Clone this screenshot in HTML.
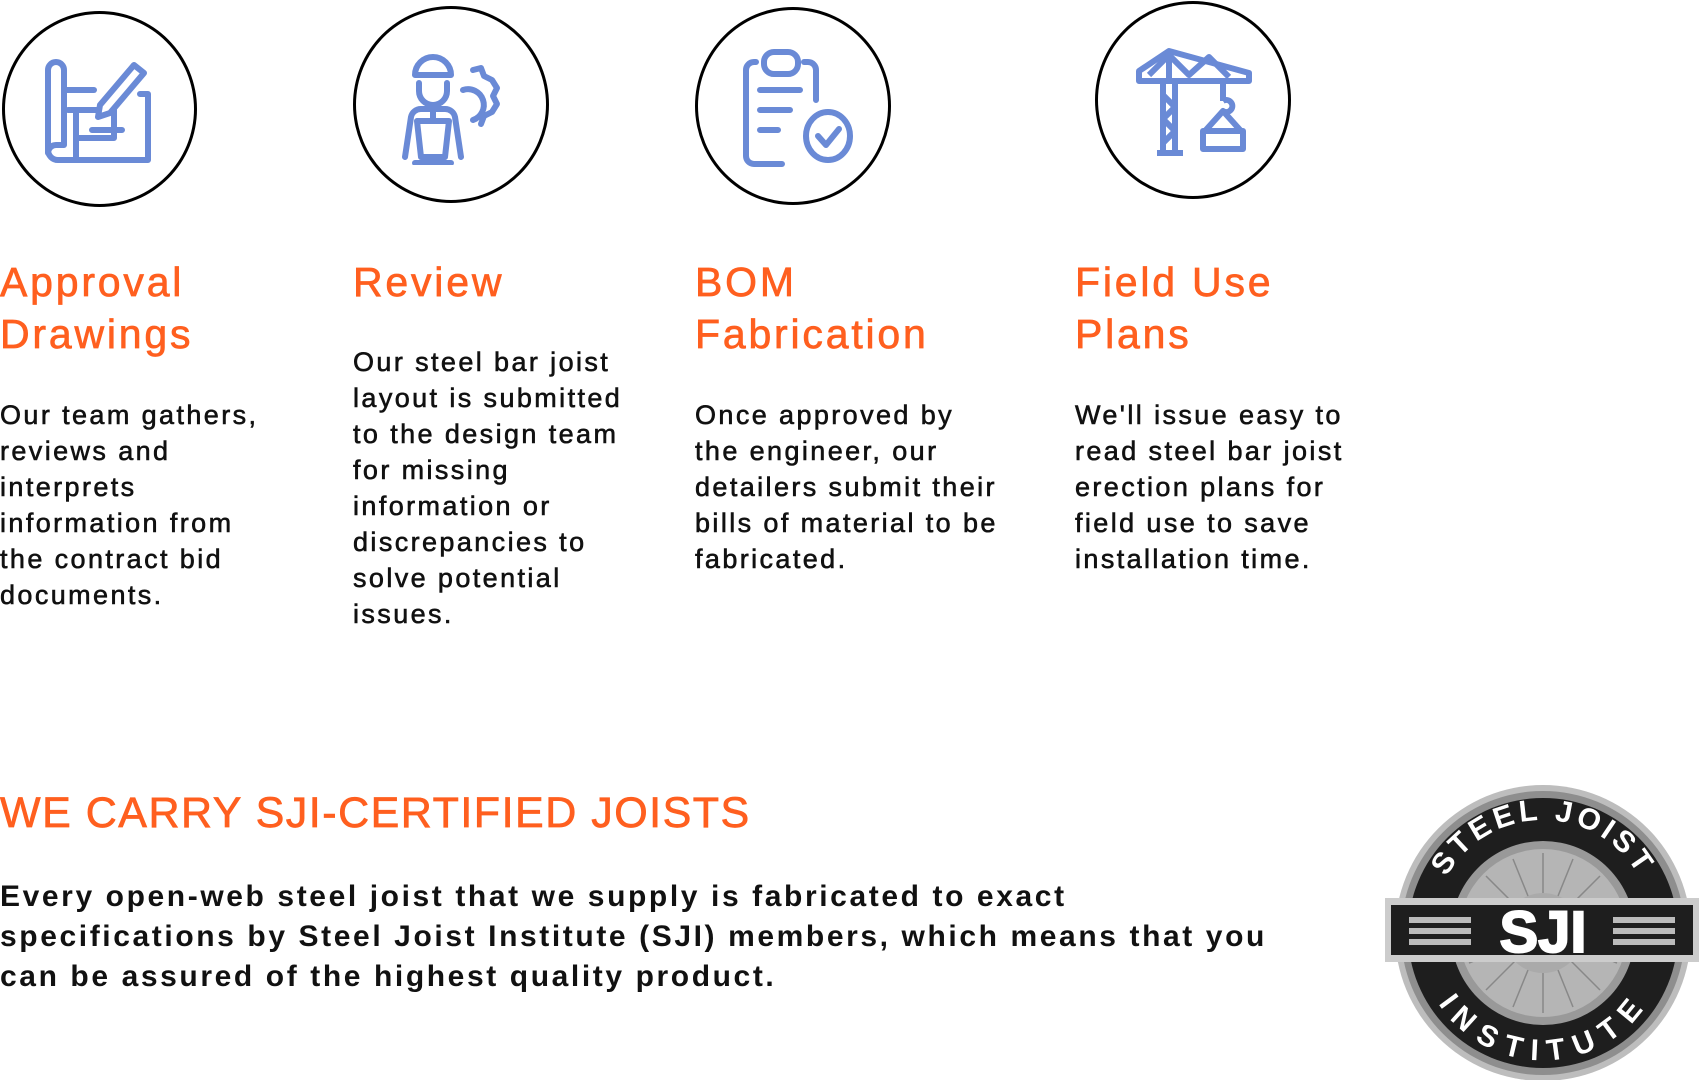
<!DOCTYPE html>
<html><head><meta charset="utf-8"><style>
html,body{margin:0;padding:0;background:#fff;width:1699px;height:1080px;overflow:hidden;position:relative;font-family:"Liberation Sans",sans-serif}
.c{position:absolute;border:3px solid #000;border-radius:50%;box-sizing:border-box}
.h{position:absolute;color:#ff5f1f;font-size:41px;line-height:52px;letter-spacing:2.8px;white-space:nowrap;-webkit-text-stroke:0.7px #ff5f1f}
.b{position:absolute;color:#111;font-size:27px;line-height:36px;letter-spacing:2.4px;white-space:nowrap;-webkit-text-stroke:0.6px #111}
svg.i{position:absolute}
</style></head><body>
<div class="c" style="left:2px;top:11px;width:195px;height:196px"></div>
<div class="c" style="left:353px;top:6px;width:196px;height:197px"></div>
<div class="c" style="left:695px;top:7px;width:196px;height:198px"></div>
<div class="c" style="left:1095px;top:1px;width:196px;height:198px"></div>

<svg class="i" style="left:40px;top:50px" width="120" height="120" viewBox="0 0 120 120" fill="none" stroke="#6a8ad6" stroke-width="6" stroke-linecap="round" stroke-linejoin="round">
<path d="M8 20 a8 8 0 0 1 16 0 v75 h-8 a8 8 0 0 0 -8 8 v-83z"/><path d="M8 100 a10 10 0 0 0 10 10 h90 V44 h-8"/><path d="M24 40 h30"/><path d="M28 60 h30 M36 60 v50 M36 88 h38 M74 60 v28 M52 80 h30"/>
<path d="M60 55 l34 -40 10 8 -34 40 -12 4z"/>
</svg>
<svg class="i" style="left:395px;top:45px" width="120" height="120" viewBox="0 0 120 120" fill="none" stroke="#6a8ad6" stroke-width="6" stroke-linecap="round" stroke-linejoin="round">
<path d="M20 30 a18 18 0 0 1 36 0 z"/><path d="M24 38 v8 a14 14 0 0 0 28 0 v-8"/><path d="M10 112 l6 -40 a10 10 0 0 1 10 -8 h24 a10 10 0 0 1 10 8 l6 40"/><path d="M22 76 h32 l-4 36 h-24z"/><path d="M20 118 h36"/><path d="M38 64 v12"/>
<path d="M68 45 a14 14 0 1 1 10 30"/><path d="M78 25 l8 -2 3 8 8 4 5 8 -4 8 4 8 -5 8 -8 4 -3 8"/>
</svg>
<svg class="i" style="left:740px;top:48px" width="120" height="120" viewBox="0 0 120 120" fill="none" stroke="#6a8ad6" stroke-width="6" stroke-linecap="round" stroke-linejoin="round">
<rect x="24" y="4" width="34" height="22" rx="10"/><path d="M16 14 h-2 a8 8 0 0 0 -8 8 v86 a8 8 0 0 0 8 8 h28"/><path d="M64 14 h4 a8 8 0 0 1 8 8 v30"/><path d="M20 42 h40 M20 62 h30 M20 82 h18"/><ellipse cx="88" cy="88" rx="22" ry="24"/><path d="M78 88 l8 9 13 -16"/>
</svg>
<svg class="i" style="left:1135px;top:45px" width="120" height="120" viewBox="0 0 120 120" fill="none" stroke="#6a8ad6" stroke-width="6" stroke-linejoin="round">
<path d="M4 26 l30 -20 80 22 v8 H4z"/><path d="M34 6 v30 M14 30 l20 -20 20 20 20 -18 20 20"/><path d="M28 36 v70 M40 36 v70 M28 50 l12 12 -12 12 12 12 -12 12"/><path d="M22 108 h26"/><path d="M88 36 v20 M88 56 a6 6 0 1 1 0 10 l-18 20 h36 l-18 -20"/><rect x="68" y="86" width="40" height="18"/>
</svg>

<div class="h" style="left:0;top:256px">Approval<br>Drawings</div>
<div class="h" style="left:353px;top:256px">Review</div>
<div class="h" style="left:695px;top:256px">BOM<br>Fabrication</div>
<div class="h" style="left:1075px;top:256px">Field Use<br>Plans</div>

<div class="b" style="left:0;top:397px">Our team gathers,<br>reviews and<br>interprets<br>information from<br>the contract bid<br>documents.</div>
<div class="b" style="left:353px;top:344px">Our steel bar joist<br>layout is submitted<br>to the design team<br>for missing<br>information or<br>discrepancies to<br>solve potential<br>issues.</div>
<div class="b" style="left:695px;top:397px">Once approved by<br>the engineer, our<br>detailers submit their<br>bills of material to be<br>fabricated.</div>
<div class="b" style="left:1075px;top:397px">We'll issue easy to<br>read steel bar joist<br>erection plans for<br>field use to save<br>installation time.</div>

<div style="position:absolute;left:0;top:788px;color:#ff5f1f;font-size:43px;line-height:50px;white-space:nowrap;letter-spacing:1.5px;-webkit-text-stroke:0.7px #ff5f1f">WE CARRY SJI-CERTIFIED JOISTS</div>
<div style="position:absolute;left:0;top:877px;color:#111;font-size:30px;line-height:40px;font-weight:bold;white-space:nowrap;letter-spacing:2.6px">Every open-web steel joist that we supply is fabricated to exact<br>specifications by Steel Joist Institute (SJI) members, which means that you<br>can be assured of the highest quality product.</div>

<svg style="position:absolute;left:1385px;top:780px" width="314" height="300" viewBox="0 0 314 300">
<defs>
<path id="tp" d="M48 150 A110 110 0 0 1 268 150"/>
<path id="bp" d="M55 170 A104 104 0 0 0 261 170"/>
</defs>
<circle cx="158" cy="153" r="148" fill="#bdbdbd"/>
<circle cx="158" cy="153" r="142" fill="#8e8e8e"/>
<circle cx="158" cy="153" r="135" fill="#1e1e1e"/>
<circle cx="158" cy="153" r="92" fill="#999"/>
<circle cx="158" cy="153" r="84" fill="#b5b5b5"/>
<g stroke="#888" stroke-width="1.5">
<path d="M158 73 V233 M78 153 H238 M101 96 L215 210 M215 96 L101 210 M128 79 L188 227 M188 79 L128 227 M84 123 L232 183 M84 183 L232 123"/>
</g>
<circle cx="158" cy="153" r="40" fill="#aaa"/>
<rect x="0" y="118" width="314" height="64" fill="#ccc"/>
<rect x="6" y="125" width="302" height="50" fill="#1e1e1e"/>
<g fill="#bbb"><rect x="24" y="137" width="62" height="6"/><rect x="24" y="148" width="62" height="6"/><rect x="24" y="159" width="62" height="6"/><rect x="228" y="137" width="62" height="6"/><rect x="228" y="148" width="62" height="6"/><rect x="228" y="159" width="62" height="6"/></g>
<text x="158" y="172" text-anchor="middle" font-family="Liberation Sans" font-weight="bold" font-size="58" fill="#fff" stroke="#fff" stroke-width="2">SJI</text>
<text font-family="Liberation Sans" font-weight="bold" font-size="30" fill="#fff" letter-spacing="4"><textPath href="#tp" startOffset="50%" text-anchor="middle">STEEL JOIST</textPath></text>
<text font-family="Liberation Sans" font-weight="bold" font-size="30" fill="#fff" letter-spacing="6"><textPath href="#bp" startOffset="50%" text-anchor="middle" dominant-baseline="hanging">INSTITUTE</textPath></text>
</svg>
</body></html>
